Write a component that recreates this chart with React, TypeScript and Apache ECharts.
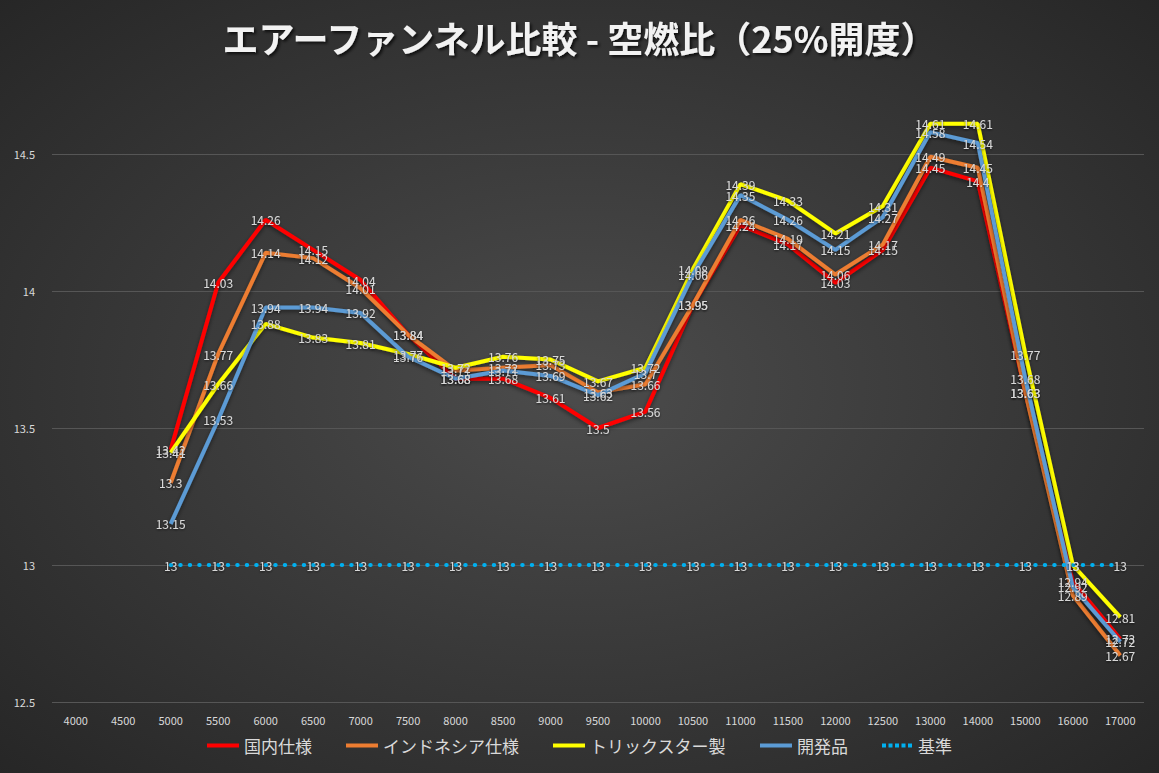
import React, { useEffect, useRef } from "react";
import * as echarts from "echarts";

const categories = ["4000","4500","5000","5500","6000","6500","7000","7500","8000","8500","9000","9500","10000","10500","11000","11500","12000","12500","13000","14000","15000","16000","17000"];
const domestic = [null,null,13.42,14.03,14.26,14.15,14.04,13.84,13.68,13.68,13.61,13.5,13.56,13.95,14.24,14.17,14.03,14.15,14.45,14.4,13.63,12.94,12.73];
const indonesia = [null,null,13.3,13.77,14.14,14.12,14.01,13.84,13.71,13.72,13.73,13.63,13.66,13.95,14.26,14.19,14.06,14.17,14.49,14.45,13.63,12.89,12.67];
const trickstar = [null,null,13.41,13.66,13.88,13.83,13.81,13.77,13.72,13.76,13.75,13.67,13.72,14.08,14.39,14.33,14.21,14.31,14.61,14.61,13.77,13.0,12.81];
const develop = [null,null,13.15,13.53,13.94,13.94,13.92,13.76,13.68,13.71,13.69,13.62,13.7,14.06,14.35,14.26,14.15,14.27,14.58,14.54,13.68,12.92,12.72];
const baseline = [null,null,13,13,13,13,13,13,13,13,13,13,13,13,13,13,13,13,13,13,13,13,13];

const seriesNames = ["国内仕様","インドネシア仕様","トリックスター製","開発品","基準"];
const seriesColors = ["#ff0000","#ed7d31","#ffff00","#5b9bd5","#00b0f0"];

const FONT = "'Noto Sans CJK JP', 'Noto Sans', sans-serif";
const DOT_ICON = "path://M0,0h4v4h-4z M6.5,0h4v4h-4z M13,0h4v4h-4z M19.5,0h4v4h-4z M26,0h4v4h-4z";

export default function App() {
  const ref = useRef<HTMLDivElement>(null);
  useEffect(() => {
    if (!ref.current) return;
    const chart = echarts.init(ref.current, null, { renderer: "svg" });
    const label = {
      show: true,
      position: "inside",
      color: "#d9d9d9",
      fontSize: 12,
      fontFamily: FONT,
      textShadowColor: "rgba(0,0,0,0.6)",
      textShadowBlur: 2,
      textShadowOffsetY: 1,
    };
    const shadow = { shadowColor: "rgba(0,0,0,0.5)", shadowBlur: 4, shadowOffsetY: 2 };
    const datasets = [domestic, indonesia, trickstar, develop];
    const series: any[] = datasets.map((d, i) => ({
      name: seriesNames[i],
      type: "line",
      data: d,
      symbol: "circle",
      symbolSize: 0,
      showSymbol: true,
      lineStyle: { color: seriesColors[i], width: 4, ...shadow },
      itemStyle: { color: seriesColors[i] },
      label,
      labelLayout: { hideOverlap: false },
    }));
    series.push({
      name: seriesNames[4],
      type: "line",
      data: baseline,
      symbol: "circle",
      symbolSize: 0,
      showSymbol: true,
      lineStyle: {
        color: seriesColors[4],
        width: 4,
        type: [0.5, 9],
        cap: "round",
      },
      itemStyle: { color: seriesColors[4] },
      label,
    });
    chart.setOption({
      animation: false,
      backgroundColor: new echarts.graphic.RadialGradient(0.5, 0.5, 0.75, [
        { offset: 0, color: "#4c4c4c" },
        { offset: 1, color: "#242424" },
      ]),
      title: {
        text: "エアーファンネル比較 - 空燃比（25%開度）",
        left: "center",
        top: 14,
        textStyle: {
          color: "#f2f2f2",
          fontSize: 36,
          fontWeight: "bold",
          fontFamily: FONT,
          textShadowColor: "rgba(0,0,0,0.7)",
          textShadowBlur: 3,
          textShadowOffsetX: 2,
          textShadowOffsetY: 2,
        },
      },
      legend: {
        bottom: 14,
        left: "center",
        itemWidth: 32,
        itemHeight: 4,
        itemGap: 34,
        textStyle: { color: "#d9d9d9", fontSize: 17, fontFamily: FONT },
        data: seriesNames.map((n, i) => ({ name: n, icon: i === 4 ? DOT_ICON : "rect" })),
      },
      grid: { left: 52, right: 15, top: 17, bottom: 71 },
      xAxis: {
        type: "category",
        data: categories,
        boundaryGap: true,
        axisLine: { show: false },
        axisTick: { show: false },
        axisLabel: { color: "#d9d9d9", fontSize: 11, fontFamily: FONT, margin: 12 },
      },
      yAxis: {
        type: "value",
        min: 12.5,
        max: 15,
        interval: 0.5,
        axisLine: { show: false },
        axisTick: { show: false },
        axisLabel: {
          color: "#d9d9d9",
          fontSize: 11,
          fontFamily: FONT,
          showMaxLabel: false,
          margin: 17,
        },
        splitLine: {
          lineStyle: {
            color: ["#565656", "#565656", "#565656", "#565656", "#565656", "rgba(0,0,0,0)"],
            width: 1,
          },
        },
      },
      series,
    });
    return () => chart.dispose();
  }, []);
  return <div ref={ref} style={{ width: 1159, height: 773, position: "absolute", left: 0, top: 0 }} />;
}
